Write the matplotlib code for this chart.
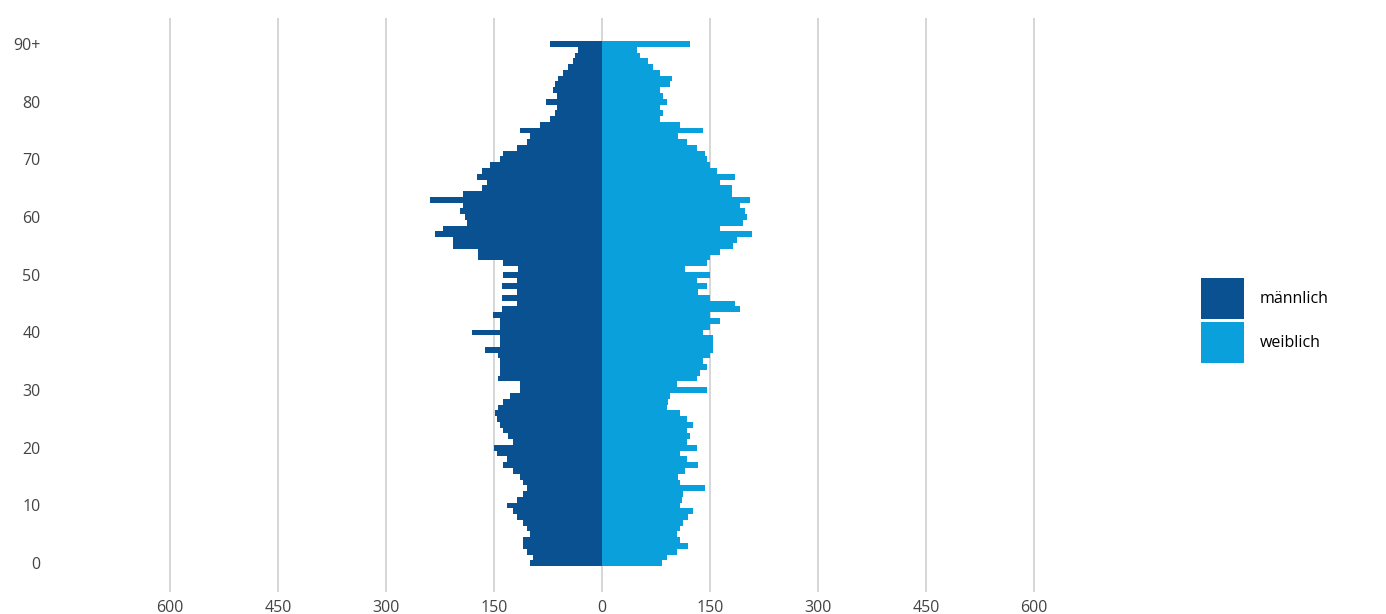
import matplotlib
matplotlib.use("Agg")
import matplotlib.pyplot as plt
import numpy as np

# ages 0..89 and 90+
ages = list(range(91))
age_ticks = [0, 10, 20, 30, 40, 50, 60, 70, 80, 90]
age_labels = ["0", "10", "20", "30", "40", "50", "60", "70", "80", "90+"]

maennlich = [100, 96, 104, 110, 110, 100, 104, 110, 118, 124,
             132, 118, 110, 104, 110, 114, 124, 138, 132, 146,
             150, 124, 131, 138, 142, 146, 149, 144, 138, 128,
             114, 114, 144, 142, 142, 142, 144, 163, 142, 142,
             181, 142, 142, 151, 139, 118, 139, 118, 139, 118,
             138, 117, 138, 172, 172, 207, 207, 232, 221, 188,
             190, 197, 193, 239, 193, 167, 160, 174, 167, 156,
             142, 138, 118, 104, 100, 114, 86, 72, 65, 63,
             78, 63, 68, 65, 61, 54, 47, 40, 38, 33,
             72]

weiblich = [83, 90, 104, 119, 108, 104, 108, 112, 119, 126,
            108, 111, 112, 143, 108, 106, 115, 133, 118, 108,
            132, 118, 122, 118, 126, 118, 108, 90, 92, 94,
            146, 104, 132, 136, 146, 140, 150, 154, 154, 154,
            140, 150, 164, 150, 192, 185, 150, 133, 146, 132,
            150, 115, 146, 150, 164, 182, 188, 208, 164, 196,
            201, 199, 192, 206, 181, 181, 164, 185, 160, 150,
            146, 143, 132, 118, 106, 140, 108, 81, 85, 81,
            90, 85, 81, 94, 97, 81, 71, 64, 53, 49,
            122]

x_ticks = [-600, -450, -300, -150, 0, 150, 300, 450, 600]
x_labels = ["600", "450", "300", "150", "0", "150", "300", "450", "600"]

col_m = "#0a5191"
col_w = "#0aa0dc"

plt.rcParams['font.family'] = ["Open Sans", "DejaVu Sans"]

fig = plt.figure(figsize=(13.86, 6.14), dpi=100)
ax = fig.add_axes([60 / 1386, 22 / 614, 1090 / 1386, 574 / 614])

ax.barh(ages, -np.array(maennlich), height=1.0, color=col_m, label="männlich")
ax.barh(ages, weiblich, height=1.0, color=col_w, label="weiblich")

ax.set_xlim(-752.8, 761.1)
ax.set_ylim(-5.0, 94.5)
ax.set_xticks(x_ticks)
ax.set_xticklabels(x_labels)
ax.set_yticks(age_ticks)
ax.set_yticklabels(age_labels)
ax.tick_params(axis="x", length=0, pad=6, labelsize=11.5, labelcolor="#444444")
ax.tick_params(axis="y", length=0, pad=14, labelsize=11.5, labelcolor="#444444")
ax.grid(axis="x", color="#d0d0d0", linewidth=1.2)
ax.set_axisbelow(True)
for s in ax.spines.values():
    s.set_visible(False)

fig.legend(loc="upper left", bbox_to_anchor=(1201 / 1386, 1 - 278 / 614),
           frameon=False, fontsize=11.5, handlelength=2.68, handleheight=3.6,
           labelspacing=0.15, handletextpad=1.0, borderpad=0, borderaxespad=0)

fig.savefig("out.png", dpi=100)
